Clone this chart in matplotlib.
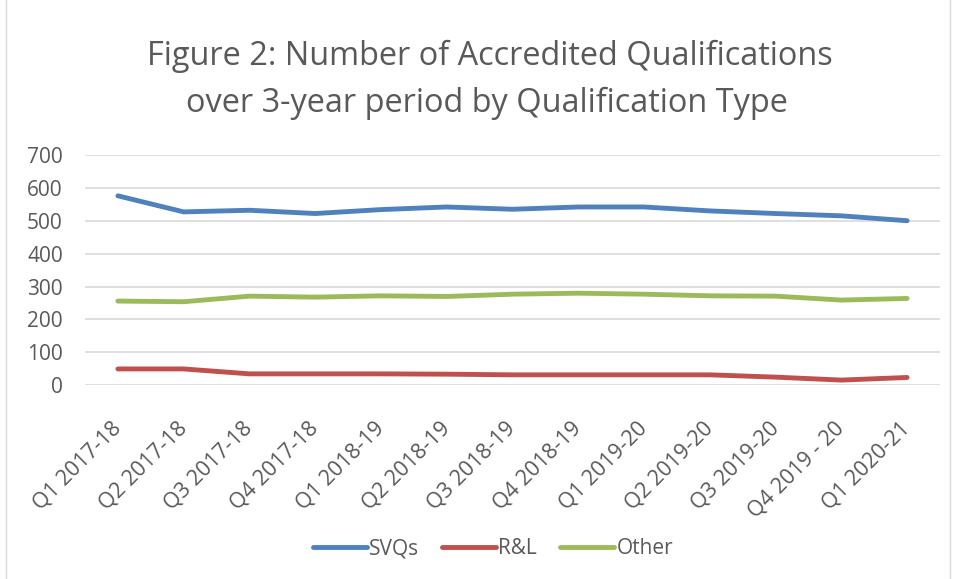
import matplotlib.pyplot as plt
from matplotlib.patches import Rectangle

# quarters on the x axis
quarters = ['Q1 2017-18', 'Q2 2017-18', 'Q3 2017-18', 'Q4 2017-18',
            'Q1 2018-19', 'Q2 2018-19', 'Q3 2018-19', 'Q4 2018-19',
            'Q1 2019-20', 'Q2 2019-20', 'Q3 2019-20', 'Q4 2019 - 20',
            'Q1 2020-21']

# values
svqs = [577, 528, 533, 523, 535, 543, 536, 543, 543, 531, 523, 516, 501]
rl = [49, 49, 34, 34, 34, 33, 31, 31, 31, 31, 24, 15, 23]
other = [256, 254, 271, 268, 272, 270, 277, 280, 277, 272, 271, 259, 264]

plt.rcParams['font.family'] = ['Open Sans', 'DejaVu Sans']
text_col = '#595959'

fig = plt.figure(figsize=(9.58, 5.79), dpi=100)
ax = fig.add_axes([85 / 958, 1 - 385 / 579, 855 / 958, 229.5 / 579])

x = range(len(quarters))
ax.plot(x, svqs, color='#4F81BD', lw=3.5, solid_capstyle='round', label='SVQs')
ax.plot(x, rl, color='#C0504D', lw=3.5, solid_capstyle='round', label='R&L')
ax.plot(x, other, color='#9BBB59', lw=3.5, solid_capstyle='round', label='Other')

ax.set_xlim(-0.5, len(quarters) - 0.5)
ax.set_ylim(0, 700)
ax.set_yticks(range(0, 701, 100))
ax.set_xticks(list(x))
ax.set_xticklabels(quarters, rotation=45, ha='right', va='center',
                   rotation_mode='anchor', fontsize=15.5, color=text_col)
ax.tick_params(axis='y', labelsize=15, labelcolor=text_col, length=0, pad=16)
ax.tick_params(axis='x', length=0, pad=29)
ax.grid(axis='y', color='#D9D9D9', lw=1.2)
ax.set_axisbelow(True)
for s in ax.spines.values():
    s.set_visible(False)

fig.text(490 / 958, 1 - 65 / 579, 'Figure 2: Number of Accredited Qualifications',
         ha='center', va='baseline', fontsize=23.4, color=text_col)
fig.text(487 / 958, 1 - 112 / 579, 'over 3-year period by Qualification Type',
         ha='center', va='baseline', fontsize=23.4, color=text_col)

fig.legend(loc='center', bbox_to_anchor=(493 / 958, 1 - 549 / 579), ncol=3, frameon=False,
           fontsize=15, labelcolor=text_col, handlelength=2.6, handletextpad=0.1,
           columnspacing=1.1)

# light chart border
fig.patches.append(Rectangle((6 / 958, -0.01), 944 / 958, 1.05, transform=fig.transFigure,
                             fill=False, edgecolor='#D9D9D9', lw=1))

fig.savefig('out.png', dpi=100)
